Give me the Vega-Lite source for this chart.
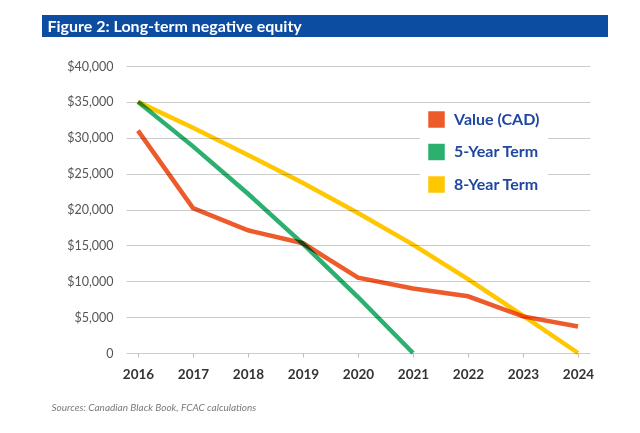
{
  "$schema": "https://vega.github.io/schema/vega-lite/v6.json",
  "description": "Long-term negative equity: vehicle value vs 5- and 8-year loan balances.",
  "background": "white",
  "padding": {"left": 42, "top": 15, "right": 0, "bottom": 0},
  "spacing": 23,
  "data": {
    "values": [
      {"year": 2016, "series": "Value (CAD)", "value": 31000},
      {"year": 2017, "series": "Value (CAD)", "value": 20200},
      {"year": 2018, "series": "Value (CAD)", "value": 17100},
      {"year": 2019, "series": "Value (CAD)", "value": 15300},
      {"year": 2020, "series": "Value (CAD)", "value": 10500},
      {"year": 2021, "series": "Value (CAD)", "value": 9000},
      {"year": 2022, "series": "Value (CAD)", "value": 7900},
      {"year": 2023, "series": "Value (CAD)", "value": 5100},
      {"year": 2024, "series": "Value (CAD)", "value": 3700},
      {"year": 2016, "series": "5-Year Term", "value": 35000},
      {"year": 2017, "series": "5-Year Term", "value": 28800},
      {"year": 2018, "series": "5-Year Term", "value": 22200},
      {"year": 2019, "series": "5-Year Term", "value": 15200},
      {"year": 2020, "series": "5-Year Term", "value": 7800},
      {"year": 2021, "series": "5-Year Term", "value": 0},
      {"year": 2016, "series": "8-Year Term", "value": 35000},
      {"year": 2017, "series": "8-Year Term", "value": 31400},
      {"year": 2018, "series": "8-Year Term", "value": 27600},
      {"year": 2019, "series": "8-Year Term", "value": 23700},
      {"year": 2020, "series": "8-Year Term", "value": 19500},
      {"year": 2021, "series": "8-Year Term", "value": 15100},
      {"year": 2022, "series": "8-Year Term", "value": 10300},
      {"year": 2023, "series": "8-Year Term", "value": 5200},
      {"year": 2024, "series": "8-Year Term", "value": 0}
    ]
  },
  "vconcat": [
    {
      "width": 566,
      "height": 22,
      "data": {"values": []},
      "mark": "point",
      "view": {"fill": "#0c4da2", "stroke": null},
      "encoding": {
        "x": {
          "field": "h",
          "type": "quantitative",
          "scale": {"domain": [0, 1]},
          "axis": {
            "labels": false,
            "ticks": false,
            "domain": false,
            "grid": false,
            "title": "Figure 2: Long-term negative equity",
            "titleX": 5,
            "titleY": -5.5,
            "titleAlign": "left",
            "titleAnchor": "start",
            "titleBaseline": "alphabetic",
            "titleFont": "Lato",
            "titleFontSize": 16,
            "titleFontWeight": "bold",
            "titleColor": "white"
          }
        }
      }
    },
    {
      "width": 548,
      "height": 287,
      "mark": {"type": "line", "strokeWidth": 4.5, "blend": "multiply"},
      "encoding": {
        "x": {
          "field": "year",
          "type": "quantitative",
          "scale": {"domain": [2015.782, 2024.218], "range": [84, 548], "nice": false, "zero": false},
          "axis": {
            "values": [2016, 2017, 2018, 2019, 2020, 2021, 2022, 2023, 2024],
            "format": "d",
            "grid": false,
            "domain": false,
            "ticks": true,
            "tickSize": 4,
            "tickColor": "#bdbdbd",
            "labelPadding": 10,
            "labelFont": "Lato",
            "labelFontSize": 13.5,
            "labelFontWeight": "bold",
            "labelColor": "#333333",
            "title": "Sources: Canadian Black Book, FCAC calculations",
            "titleX": 9,
            "titleY": 54,
            "titleAlign": "left",
            "titleBaseline": "middle",
            "titleFont": "Lato",
            "titleFontSize": 10,
            "titleFontStyle": "italic",
            "titleFontWeight": "normal",
            "titleColor": "#7a7a7a"
          }
        },
        "y": {
          "field": "value",
          "type": "quantitative",
          "scale": {"domain": [0, 40000], "nice": false},
          "axis": {
            "values": [0, 5000, 10000, 15000, 20000, 25000, 30000, 35000, 40000],
            "labelExpr": "datum.value == 0 ? '0' : '$' + format(datum.value, ',')",
            "offset": -84,
            "grid": true,
            "gridColor": "#cccccc",
            "domain": false,
            "ticks": false,
            "labelPadding": 13,
            "labelFont": "Lato",
            "labelFontSize": 12.5,
            "labelColor": "#555555",
            "title": null
          }
        },
        "color": {
          "field": "series",
          "type": "nominal",
          "scale": {
            "domain": ["Value (CAD)", "5-Year Term", "8-Year Term"],
            "range": ["#ee5b2a", "#2bb06f", "#ffc700"]
          },
          "legend": {
            "title": null,
            "orient": "none",
            "legendX": 378,
            "legendY": 88,
            "padding": 8,
            "fillColor": "white",
            "symbolType": "square",
            "symbolSize": 272,
            "symbolStrokeWidth": 0,
            "symbolOpacity": 1,
            "rowPadding": 15.5,
            "labelOffset": 9,
            "labelFont": "Lato",
            "labelFontSize": 16,
            "labelFontWeight": "bold",
            "labelColor": "#1f47a1",
            "encode": {
              "symbols": {
                "update": {
                  "fill": {"scale": "color", "field": "value"},
                  "strokeWidth": {"value": 0}
                }
              }
            }
          }
        }
      }
    }
  ],
  "config": {
    "view": {"stroke": null}
  }
}
